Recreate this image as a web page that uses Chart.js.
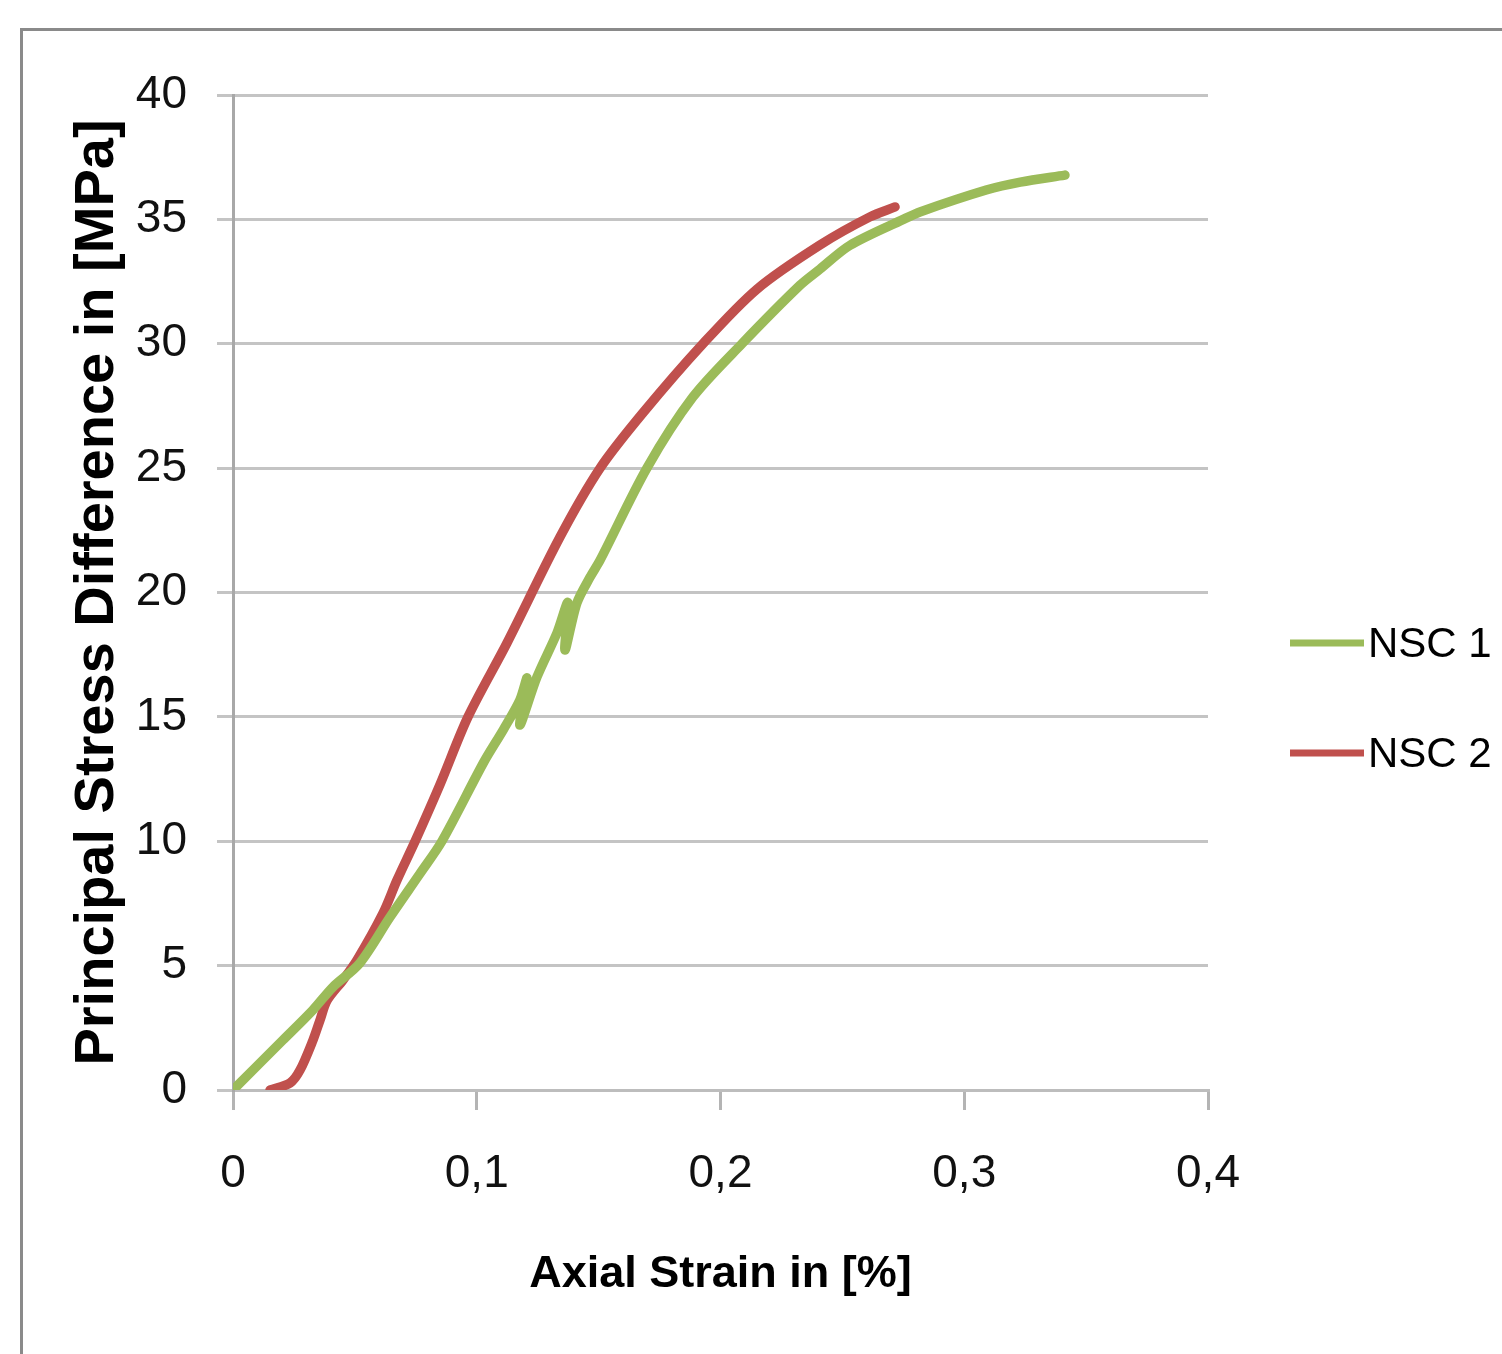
<!DOCTYPE html>
<html>
<head>
<meta charset="utf-8">
<script src="https://cdn.jsdelivr.net/npm/chart.js@4"></script>
<style>
  html, body { margin: 0; padding: 0; background: #fff; }
  #frame {
    position: absolute; left: 20px; top: 28px; right: 0; bottom: 0;
    border-top: 3px solid #8a8a8a; border-left: 3px solid #8a8a8a;
  }
  #chart { position: absolute; left: 0; top: 0; }
</style>
</head>
<body>
<div id="frame"></div>
<canvas id="chart" width="1502" height="1354"></canvas>
<script>
const seriesNames = ["NSC 1", "NSC 2"];

// NSC 1: axial strain [%] / stress difference [MPa]
const nsc1Strain = [0, 0.0205, 0.0328, 0.041, 0.052, 0.0644, 0.0767, 0.0857, 0.103, 0.111, 0.1177,
  0.1206, 0.1177, 0.1247, 0.1329, 0.1374, 0.1362, 0.1411, 0.1465, 0.1506, 0.1698, 0.1887, 0.2088,
  0.2326, 0.2408, 0.253, 0.275, 0.2818, 0.309, 0.323, 0.3413];
const nsc1Stress = [0, 2.01, 3.22, 4.14, 5.1, 6.95, 8.7, 10, 13.2, 14.5, 15.68,
  16.56, 14.67, 16.6, 18.37, 19.6, 17.69, 19.58, 20.62, 21.3, 25, 27.86, 30,
  32.35, 33.0, 33.95, 35.0, 35.3, 36.18, 36.5, 36.78];

// NSC 2
const nsc2Strain = [0.0152, 0.0234, 0.0275, 0.0328, 0.0357, 0.0386, 0.0451, 0.0509, 0.0615, 0.0673,
  0.0747, 0.085, 0.0964, 0.1124, 0.1342, 0.1506, 0.168, 0.1928, 0.215, 0.2408, 0.2613, 0.2716];
const nsc2Stress = [0, 0.28, 0.8, 2.0, 2.81, 3.6, 4.42, 5.23, 7.1, 8.44,
  10, 12.3, 15.0, 17.97, 22.24, 25, 27.2, 30, 32.2, 33.97, 35.1, 35.5];

const xTickLabels = ["0", "0,1", "0,2", "0,3", "0,4"];
const yTickLabels = ["0", "5", "10", "15", "20", "25", "30", "35", "40"];

const toPoints = (xs, ys) => xs.map((x, i) => ({ x: x, y: ys[i] }));

const sans = "'Liberation Sans', Arial, sans-serif";

const legendPlugin = {
  id: "sideLegend",
  afterDraw(chart) {
    const ctx = chart.ctx;
    ctx.save();
    ctx.font = "42px " + sans;
    ctx.textBaseline = "middle";
    ctx.fillStyle = "#000";
    chart.data.datasets.forEach((ds, i) => {
      const y = 643 + i * 110;
      ctx.strokeStyle = ds.borderColor;
      ctx.lineWidth = 7;
      ctx.beginPath();
      ctx.moveTo(1290, y);
      ctx.lineTo(1364, y);
      ctx.stroke();
      ctx.fillText(ds.label, 1368, y + 2);
    });
    ctx.restore();
  }
};

new Chart(document.getElementById("chart"), {
  type: "scatter",
  data: {
    datasets: [
      {
        label: seriesNames[0],
        data: toPoints(nsc1Strain, nsc1Stress),
        showLine: true,
        borderColor: "#9bbb59",
        borderWidth: 9.5,
        borderCapStyle: "round",
        borderJoinStyle: "round",
        pointRadius: 0,
        tension: 0.3,
      },
      {
        label: seriesNames[1],
        data: toPoints(nsc2Strain, nsc2Stress),
        showLine: true,
        borderColor: "#c0504d",
        borderWidth: 9.5,
        borderCapStyle: "round",
        borderJoinStyle: "round",
        pointRadius: 0,
        tension: 0.3,
      },
    ],
  },
  options: {
    responsive: false,
    animation: false,
    layout: { padding: { top: 95, right: 294, left: 0, bottom: 0 } },
    plugins: { legend: { display: false }, tooltip: { enabled: false } },
    scales: {
      x: {
        type: "linear",
        min: 0,
        max: 0.4,
        afterFit: (s) => { s.height = 264; },
        afterBuildTicks: (s) => { s.ticks = xTickLabels.map((t, i) => ({ value: i * 0.1 })); },
        ticks: {
          callback: (v, i) => xTickLabels[i],
          font: { family: sans, size: 46 },
          color: "#111",
          padding: 37,
          maxRotation: 0,
        },
        grid: { drawOnChartArea: false, drawTicks: true, tickLength: 20, color: "#b4b4b4", lineWidth: 3 },
        border: { display: true, color: "#bdbdbd", width: 3 },
        title: {
          display: true,
          text: "Axial Strain in [%]",
          font: { family: sans, size: 45, weight: "bold" },
          color: "#000",
          padding: { top: 0, bottom: 52 },
        },
      },
      y: {
        min: 0,
        max: 40,
        afterFit: (s) => { s.width = 233; },
        ticks: {
          stepSize: 5,
          callback: (v) => yTickLabels[Math.round(v / 5)],
          font: { family: sans, size: 46 },
          color: "#111",
          padding: 30,
        },
        grid: { color: "#c4c4c4", lineWidth: 3, tickLength: 16, drawTicks: true },
        border: { display: true, color: "#a8a8a8", width: 3 },
        title: {
          display: true,
          text: "Principal Stress Difference in [MPa]",
          font: { family: sans, size: 56, weight: "bold" },
          color: "#000",
          padding: { top: 64, bottom: 0 },
        },
      },
    },
  },
  plugins: [legendPlugin],
});
</script>
</body>
</html>
